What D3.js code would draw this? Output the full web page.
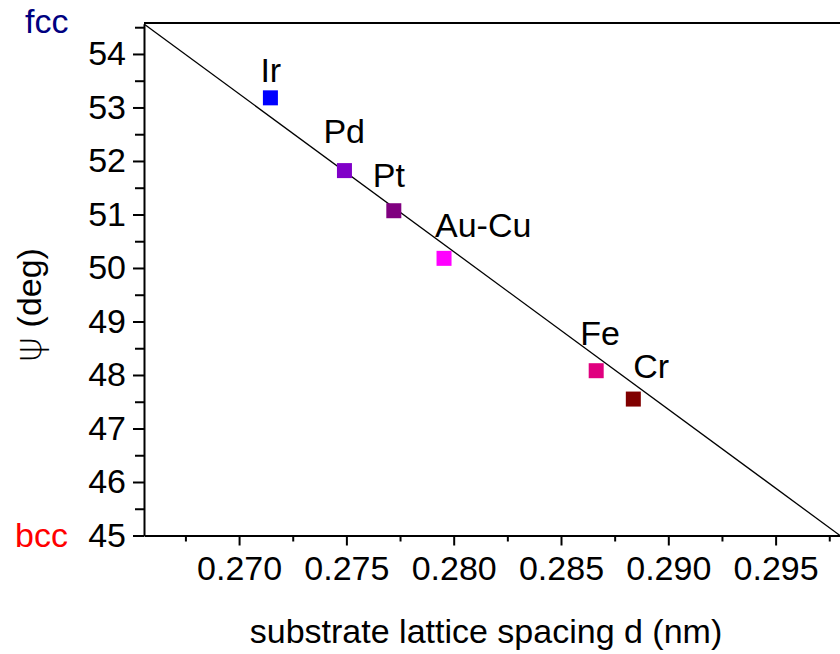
<!DOCTYPE html>
<html>
<head>
<meta charset="utf-8">
<script src="https://d3js.org/d3.v7.min.js"></script>
<style>
  body { margin: 0; background: #fff; }
  svg text { font-family: Arial, "Liberation Sans", sans-serif; }
</style>
</head>
<body>
<div id="my_dataviz"></div>
<script>
// data
var metals   = ['Ir', 'Pd', 'Pt', 'Au-Cu', 'Fe', 'Cr'];
var spacing  = [0.27146, 0.27491, 0.27721, 0.27955, 0.28664, 0.28837];
var psi      = [53.18, 51.82, 51.07, 50.18, 48.08, 47.55];
var colors   = ['#0000ff', '#8000c8', '#800080', '#ff00ff', '#e0007f', '#800000'];
// linear fit, end points
var fitX = [0.26557, 0.29800];
var fitY = [54.56, 45.00];
var xTicks = [0.270, 0.275, 0.280, 0.285, 0.290, 0.295];
var xMinor = [0.2675, 0.2725, 0.2775, 0.2825, 0.2875, 0.2925, 0.2975];
var yTicks = [45, 46, 47, 48, 49, 50, 51, 52, 53, 54];
var yMinor = [45.5, 46.5, 47.5, 48.5, 49.5, 50.5, 51.5, 52.5, 53.5, 54.5];

// label offsets from the marker centre (px)
var labelOff = [[-10, -16], [-21, -28], [-21, -24], [-9, -21], [-16, -26], [0, -21]];

var margin = { top: 24, right: 0, bottom: 118.5, left: 144 },
  width = 840 - margin.left - margin.right,
  height = 654 - margin.top - margin.bottom;

var svg = d3.select("#my_dataviz")
  .append("svg")
  .attr("width", 840)
  .attr("height", 654);

var g = svg.append("g")
  .attr("transform", "translate(" + margin.left + "," + margin.top + ")");

var x = d3.scaleLinear().domain([fitX[0], fitX[1]]).range([0, width]);
var y = d3.scaleLinear().domain([45, 54.56]).range([height, 0]);

// minor ticks
g.append("g")
  .attr("transform", "translate(0," + height + ")")
  .call(d3.axisBottom(x).tickValues(xMinor).tickSize(6).tickFormat(""))
  .call(function (a) { a.select(".domain").remove(); });
g.append("g")
  .call(d3.axisLeft(y).tickValues(yMinor).tickSize(9).tickFormat(""))
  .call(function (a) { a.select(".domain").remove(); });

// major ticks + labels
g.append("g")
  .attr("transform", "translate(0," + height + ")")
  .call(d3.axisBottom(x).tickValues(xTicks).tickSize(10).tickSizeOuter(0)
    .tickPadding(10).tickFormat(d3.format(".3f")));
g.append("g")
  .call(d3.axisLeft(y).tickValues(yTicks).tickSize(11).tickSizeOuter(0)
    .tickPadding(7).tickFormat(d3.format("d")));

g.selectAll(".tick line").attr("stroke", "#000").attr("stroke-width", 2);
g.selectAll(".domain").attr("stroke", "#000").attr("stroke-width", 2);
g.selectAll(".tick text")
  .attr("fill", "#000")
  .style("font-size", "34px");

// top frame line
g.append("line")
  .attr("x1", 0).attr("x2", width)
  .attr("y1", -1).attr("y2", -1)
  .attr("stroke", "#000").attr("stroke-width", 2);

// fit line
var fit = fitX.map(function (d, i) { return { x: d, y: fitY[i] }; });
g.append("path")
  .datum(fit)
  .attr("fill", "none")
  .attr("stroke", "#000")
  .attr("stroke-width", 1.3)
  .attr("d", d3.line()
    .x(function (d) { return x(d.x); })
    .y(function (d) { return y(d.y); }));

// points
var pts = metals.map(function (m, i) {
  return { name: m, x: spacing[i], y: psi[i], c: colors[i], off: labelOff[i] };
});
g.selectAll("rect.pt")
  .data(pts)
  .enter().append("rect")
  .attr("class", "pt")
  .attr("x", function (d) { return x(d.x) - 7.5; })
  .attr("y", function (d) { return y(d.y) - 7.5; })
  .attr("width", 15)
  .attr("height", 15)
  .attr("fill", function (d) { return d.c; });

g.selectAll("text.lbl")
  .data(pts)
  .enter().append("text")
  .attr("class", "lbl")
  .attr("x", function (d) { return x(d.x) + d.off[0]; })
  .attr("y", function (d) { return y(d.y) + d.off[1]; })
  .style("font-size", "34px")
  .text(function (d) { return d.name; });

// axis titles
svg.append("text")
  .attr("x", 486)
  .attr("y", 643)
  .attr("text-anchor", "middle")
  .style("font-size", "34px")
  .text("substrate lattice spacing d (nm)");

var yt = svg.append("text")
  .attr("transform", "translate(41,305) rotate(-90)")
  .attr("text-anchor", "middle")
  .style("font-size", "34px");
yt.append("tspan")
  .style("font-family", "'DejaVu Sans', sans-serif")
  .style("font-weight", "200")
  .style("font-size", "38px")
  .text("\u03c8");
yt.append("tspan").text(" (deg)");

// phase markers
svg.append("text")
  .attr("x", 25).attr("y", 33)
  .attr("fill", "#000080")
  .style("font-size", "34px")
  .text("fcc");
svg.append("text")
  .attr("x", 15).attr("y", 547)
  .attr("fill", "#ff0000")
  .style("font-size", "34px")
  .text("bcc");
</script>
</body>
</html>
